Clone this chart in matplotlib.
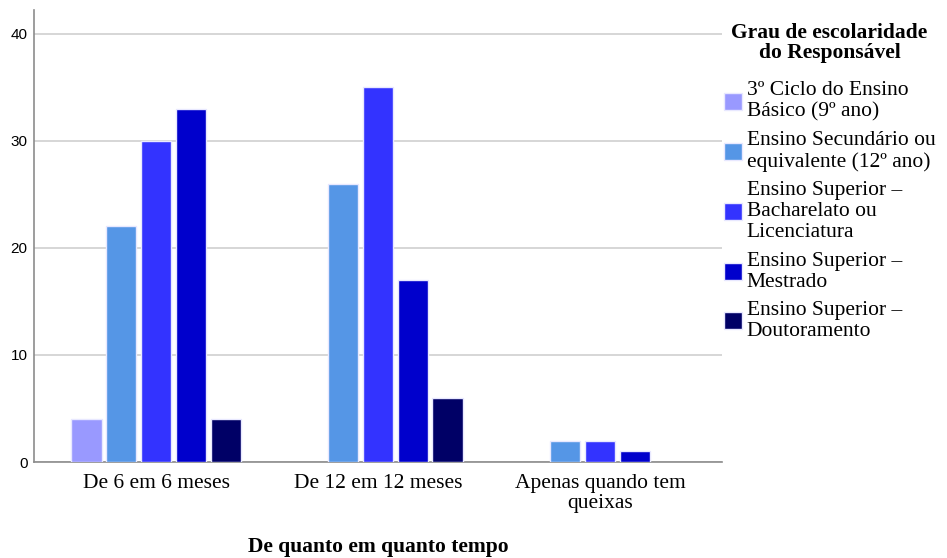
import numpy as np
import matplotlib
matplotlib.use('Agg')
import matplotlib.pyplot as plt
from matplotlib.patches import Patch

# data
categories = ['De 6 em 6 meses', 'De 12 em 12 meses', 'Apenas quando tem\nqueixas']
series_labels = [
    '3º Ciclo do Ensino\nBásico (9º ano)',
    'Ensino Secundário ou\nequivalente (12º ano)',
    'Ensino Superior –\nBacharelato ou\nLicenciatura',
    'Ensino Superior –\nMestrado',
    'Ensino Superior –\nDoutoramento',
]
basico = [4, 0, 0]
secundario = [22, 26, 2]
licenciatura = [30, 35, 2]
mestrado = [33, 17, 1]
doutoramento = [4, 6, 0]
y_ticks = [0, 10, 20, 30, 40]

colors = ['#9999FF', '#5596E6', '#3333FF', '#0000CC', '#000066']
serif = 'Liberation Serif'
sans = 'Liberation Sans'
fs = 15.5

fig = plt.figure(figsize=(9.47, 5.58), dpi=100)
ax = fig.add_axes([0.0359, 0.172, 0.7265, 0.81])

series = [basico, secundario, licenciatura, mestrado, doutoramento]
x = np.arange(len(categories))
step = 0.157
width = 0.137
for i, (vals, col) in enumerate(zip(series, colors)):
    offs = (i - 2) * step
    vals = np.array(vals, dtype=float)
    keep = vals > 0
    ax.bar(x[keep] + offs, vals[keep], width=width, color=col,
           edgecolor='#E8E8FF', linewidth=1.0, zorder=3)

ax.set_xlim(-0.55, 2.55)
ax.set_ylim(0, 42.2)
ax.set_yticks(y_ticks)
ax.set_yticklabels([str(t) for t in y_ticks], fontfamily=sans, fontsize=11)
ax.set_xticks(x)
ax.set_xticklabels(categories, fontfamily=serif, fontsize=fs, linespacing=1.08)
ax.tick_params(axis='both', length=0)
ax.tick_params(axis='y', pad=4.5)
ax.tick_params(axis='x', pad=8.5)
ax.yaxis.grid(True, color='#D3D3D3', linewidth=1.3, zorder=0)
ax.set_axisbelow(True)
for s in ['top', 'right']:
    ax.spines[s].set_visible(False)
for s in ['left', 'bottom']:
    ax.spines[s].set_color('#8C8C8C')
    ax.spines[s].set_linewidth(1.2)

ax.set_xlabel('De quanto em quanto tempo', fontfamily=serif, fontsize=fs,
              fontweight='bold', labelpad=17)

handles = [Patch(facecolor=c, edgecolor='#E8E8FF', linewidth=1.0) for c in colors]
leg = fig.legend(handles, series_labels, loc='upper left',
                 bbox_to_anchor=(0.764, 0.958), frameon=False,
                 title='Grau de escolaridade\ndo Responsável',
                 prop={'family': serif, 'size': fs},
                 handlelength=0.88, handleheight=0.84, handletextpad=0.2,
                 labelspacing=0.44, borderaxespad=0, borderpad=0)
title = leg.get_title()
title.set_fontfamily(serif)
title.set_fontsize(fs)
title.set_fontweight('bold')
title.set_multialignment('center')
title.set_linespacing(0.95)
for t in leg.get_texts():
    t.set_linespacing(1.14)
# extra gap between the title and the entries
leg._legend_box.sep = 13.5

fig.savefig('out.png', dpi=100)
